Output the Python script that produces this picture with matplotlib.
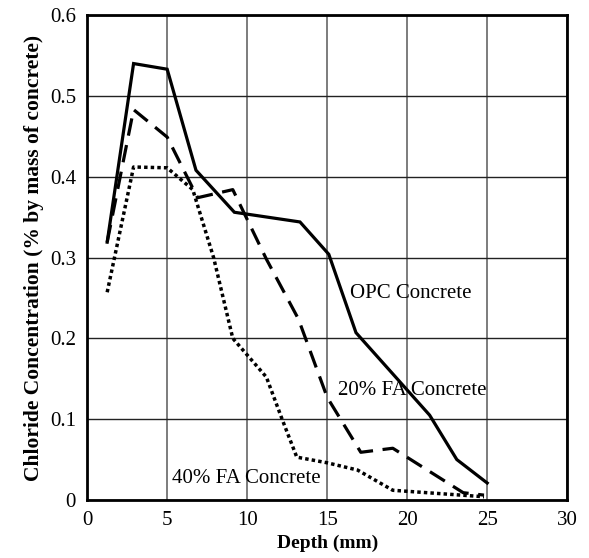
import matplotlib
matplotlib.use("Agg")
import matplotlib.pyplot as plt

# Data
opc_x = [1.25, 2.9, 5.0, 6.8, 9.2, 13.3, 15.1, 16.8, 21.4, 23.1, 25.0]
opc_y = [0.319, 0.540, 0.533, 0.408, 0.356, 0.344, 0.304, 0.207, 0.105, 0.050, 0.021]

fa20_x = [1.25, 2.9, 5.0, 6.9, 9.1, 11.2, 13.2, 15.0, 17.1, 19.1, 23.5, 24.8]
fa20_y = [0.319, 0.483, 0.449, 0.374, 0.384, 0.298, 0.224, 0.127, 0.059, 0.064, 0.009, 0.006]

fa40_x = [1.25, 2.9, 5.0, 6.6, 7.9, 9.1, 11.2, 12.2, 13.1, 15.0, 16.9, 19.1, 24.8]
fa40_y = [0.257, 0.412, 0.411, 0.384, 0.300, 0.200, 0.152, 0.099, 0.053, 0.046, 0.037, 0.012, 0.004]

x_ticks = [0, 5, 10, 15, 20, 25, 30]
y_ticks = [0, 0.1, 0.2, 0.3, 0.4, 0.5, 0.6]
y_tick_labels = ["0", "0.1", "0.2", "0.3", "0.4", "0.5", "0.6"]

labels = ["OPC Concrete", "20% FA Concrete", "40% FA Concrete"]
label_pos = [(16.4, 0.256), (15.7, 0.136), (5.3, 0.027)]

plt.rcParams['font.family'] = ['Liberation Serif', 'DejaVu Serif']

fig = plt.figure(figsize=(5.89, 5.58), dpi=100)
ax = fig.add_axes([0.148, 0.104, 0.815, 0.869])

ax.plot(opc_x, opc_y, color='black', lw=2.3, solid_joinstyle='miter')
ax.plot(fa20_x, fa20_y, color='black', lw=2.3, linestyle=(0, (5.5, 3)))
ax.plot(fa40_x, fa40_y, color='black', lw=2.5, linestyle=(0, (1.0, 0.9)), dash_capstyle='butt')

for t, (lx, ly) in zip(labels, label_pos):
    ax.text(lx, ly, t, fontsize=15, va='center', ha='left')

ax.set_xlim(0, 30)
ax.set_ylim(0, 0.6)
ax.set_xticks(x_ticks)
ax.set_xticklabels([str(v) for v in x_ticks])
ax.set_yticks(y_ticks)
ax.set_yticklabels(y_tick_labels)
ax.tick_params(axis='both', labelsize=15, length=0)
ax.tick_params(axis='x', pad=8)
ax.tick_params(axis='y', pad=8)
ax.grid(True, axis='y', color='#222222', lw=1.0)
ax.grid(True, axis='x', color='#666666', lw=1.2)
ax.set_axisbelow(True)
for s in ax.spines.values():
    s.set_linewidth(2.0)

ax.set_xlabel("Depth (mm)", fontsize=14, fontweight='bold', labelpad=3)
ax.set_ylabel("Chloride Concentration (% by mass of concrete)", fontsize=15.5, fontweight='bold', labelpad=4)

fig.savefig("out.png", dpi=100)
